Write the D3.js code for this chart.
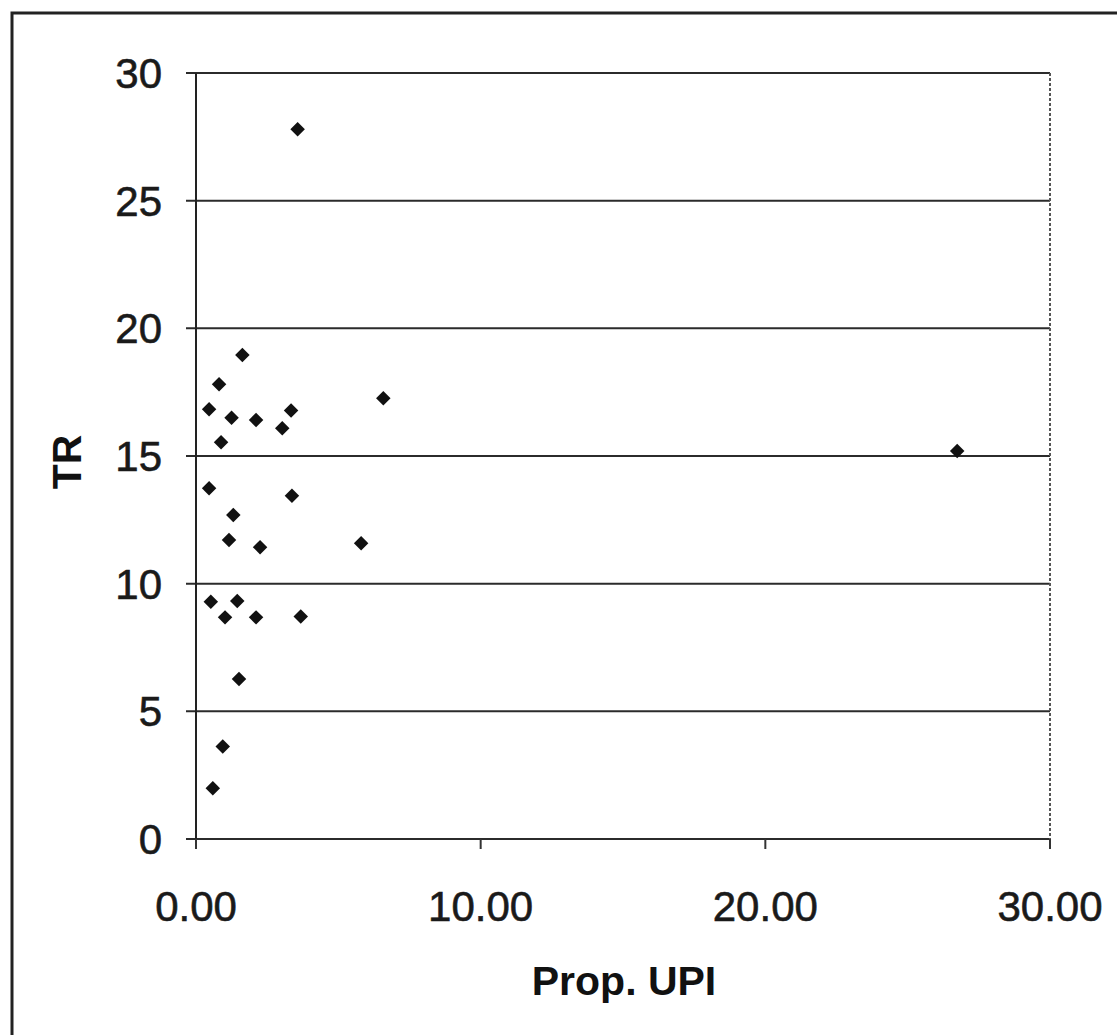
<!DOCTYPE html>
<html lang="en">
<head>
<meta charset="UTF-8">
<title>TR vs Prop. UPI</title>
<style>
  body { margin: 0; background: #fff; }
  svg { display: block; font-family: "Liberation Sans", Arial, sans-serif; }
  .grid line { stroke: #2b2b2b; stroke-width: 2px; }
  .tick-label { font-size: 42px; fill: #1a1a1a; stroke: #1a1a1a; stroke-width: 0.6px; }
  .axis-title { font-size: 41px; font-weight: bold; fill: #111; }
</style>
</head>
<body>
<svg id="chart" width="1117" height="1035"></svg>
<script src="https://d3js.org/d3.v7.min.js"></script>
<script>
// Prop. UPI (x) and TR (y)
const propUPI = [1.63, 0.81, 0.46, 1.25, 2.11, 3.03, 3.34, 6.58, 0.88, 0.46, 3.37, 1.31,
                 1.16, 2.25, 5.80, 0.52, 1.45, 1.02, 2.11, 3.68, 1.51, 0.94, 0.59, 3.57, 26.74];
const trValues = [18.96, 17.81, 16.83, 16.50, 16.41, 16.09, 16.78, 17.26, 15.54, 13.74, 13.44, 12.69,
                  11.71, 11.43, 11.58, 9.29, 9.32, 8.68, 8.68, 8.71, 6.27, 3.62, 1.99, 27.80, 15.20];
const xTicks = [0, 10, 20, 30];
const yTicks = [0, 5, 10, 15, 20, 25, 30];

const points = propUPI.map((x, i) => ({ x, y: trValues[i] }));

const svg = d3.select('#chart');
const plotL = 196, plotR = 1050, plotT = 73, plotB = 839;

const x = d3.scaleLinear().domain([0, 30]).range([plotL, plotR]);
const y = d3.scaleLinear().domain([0, 30]).range([plotB, plotT]);

// outer frame of the scanned figure
svg.append('rect')
    .attr('x', 12).attr('y', 13).attr('width', 1130).attr('height', 1040)
    .attr('fill', 'none').attr('stroke', '#222').attr('stroke-width', 3);

// horizontal gridlines (extend left as tick marks)
svg.append('g').attr('class', 'grid')
  .selectAll('line').data(yTicks).join('line')
    .attr('x1', plotL - 10).attr('x2', plotR)
    .attr('y1', d => y(d)).attr('y2', d => y(d));

// left axis line
svg.append('line')
    .attr('x1', plotL).attr('x2', plotL).attr('y1', plotT).attr('y2', plotB + 10)
    .attr('stroke', '#222').attr('stroke-width', 2);

// right border of the plot area (faint, dotted in the scan)
svg.append('line')
    .attr('x1', plotR).attr('x2', plotR).attr('y1', plotT).attr('y2', plotB)
    .attr('stroke', '#555').attr('stroke-width', 2).attr('stroke-dasharray', '3,2');

// x tick marks
svg.append('g')
  .selectAll('line').data(xTicks).join('line')
    .attr('x1', d => x(d)).attr('x2', d => x(d))
    .attr('y1', plotB).attr('y2', plotB + 10)
    .attr('stroke', '#333').attr('stroke-width', 2);

// y tick labels
svg.append('g')
  .selectAll('text').data(yTicks).join('text')
    .attr('class', 'tick-label')
    .attr('x', plotL - 34).attr('y', d => y(d))
    .attr('dy', '0.36em').attr('text-anchor', 'end')
    .text(d => d);

// x tick labels
svg.append('g')
  .selectAll('text').data(xTicks).join('text')
    .attr('class', 'tick-label')
    .attr('x', d => x(d)).attr('y', 921)
    .attr('text-anchor', 'middle')
    .text(d => d.toFixed(2));

// axis titles
svg.append('text').attr('class', 'axis-title')
    .attr('x', 624).attr('y', 995).attr('text-anchor', 'middle')
    .text('Prop. UPI');

svg.append('text').attr('class', 'axis-title')
    .attr('transform', 'translate(81,462) rotate(-90)')
    .attr('text-anchor', 'middle')
    .text('TR');

// diamond markers
const diamond = d3.symbol().type(d3.symbolSquare).size(105);
svg.append('g')
  .selectAll('path').data(points).join('path')
    .attr('d', diamond)
    .attr('transform', d => `translate(${x(d.x)},${y(d.y)}) rotate(45)`)
    .attr('fill', '#111');
</script>
</body>
</html>
